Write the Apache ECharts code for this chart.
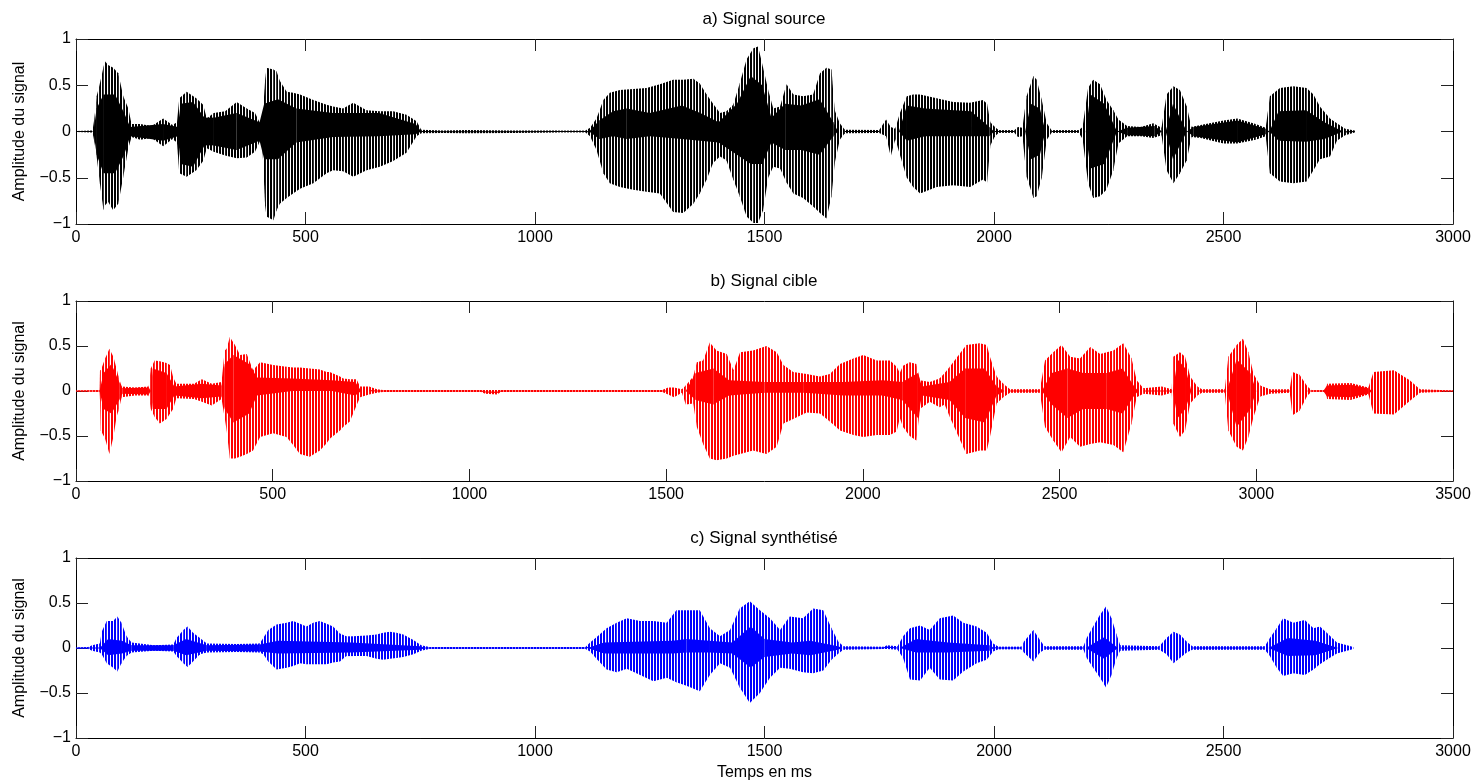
<!DOCTYPE html>
<html><head><meta charset="utf-8">
<script src="https://cdn.jsdelivr.net/npm/echarts@6/dist/echarts.min.js"></script>
<style>html,body{margin:0;padding:0;background:#fff}#c{width:1474px;height:782px}</style>
</head><body><div id="c"></div>
<script>
// ---- Data (time in ms, upper envelope, lower envelope) ----
const titles = ['a) Signal source', 'b) Signal cible', 'c) Signal synthétisé'];
const xMaxValues = [3000, 3500, 3000];
const yTicks = [-1, -0.5, 0, 0.5, 1];

const sourceEnvelope = [[0,0.005,-0.005],[36,0.01,-0.01],[40,0.14,-0.11],[45,0.38,-0.27],[52,0.52,-0.56],[60,0.70,-0.85],[63,0.76,-0.80],[70,0.72,-0.76],[81,0.69,-0.85],[92,0.63,-0.78],[103,0.38,-0.49],[114,0.25,-0.18],[121,0.08,-0.06],[140,0.08,-0.09],[165,0.06,-0.07],[190,0.14,-0.16],[210,0.07,-0.08],[220,0.10,-0.12],[225,0.36,-0.45],[241,0.43,-0.49],[262,0.36,-0.42],[277,0.29,-0.32],[285,0.14,-0.18],[300,0.20,-0.22],[325,0.22,-0.26],[350,0.32,-0.29],[372,0.25,-0.28],[390,0.20,-0.22],[405,0.05,-0.06],[412,0.55,-0.80],[415,0.69,-0.92],[430,0.67,-0.96],[437,0.65,-0.85],[444,0.55,-0.78],[459,0.43,-0.72],[473,0.42,-0.67],[488,0.40,-0.62],[517,0.34,-0.56],[546,0.29,-0.45],[560,0.27,-0.42],[582,0.25,-0.43],[604,0.31,-0.49],[633,0.23,-0.42],[662,0.22,-0.38],[691,0.22,-0.32],[720,0.18,-0.23],[742,0.11,-0.05],[752,0.02,-0.02],[800,0.01,-0.015],[850,0.015,-0.02],[950,0.01,-0.015],[1050,0.01,-0.01],[1110,0.01,-0.01],[1120,0.04,-0.05],[1134,0.14,-0.20],[1149,0.34,-0.45],[1163,0.42,-0.56],[1185,0.45,-0.60],[1214,0.46,-0.63],[1243,0.47,-0.65],[1272,0.51,-0.67],[1301,0.56,-0.87],[1323,0.56,-0.88],[1345,0.57,-0.78],[1359,0.52,-0.67],[1374,0.40,-0.52],[1388,0.30,-0.34],[1403,0.20,-0.27],[1417,0.22,-0.31],[1432,0.29,-0.52],[1446,0.52,-0.70],[1461,0.78,-0.92],[1476,0.90,-0.99],[1486,0.92,-0.99],[1497,0.69,-0.85],[1508,0.45,-0.50],[1519,0.25,-0.38],[1534,0.27,-0.40],[1548,0.51,-0.55],[1563,0.40,-0.67],[1584,0.38,-0.72],[1606,0.40,-0.81],[1621,0.63,-0.88],[1635,0.69,-0.94],[1646,0.67,-0.70],[1653,0.23,-0.34],[1664,0.09,-0.09],[1675,0.02,-0.02],[1750,0.015,-0.015],[1765,0.13,-0.05],[1775,0.05,-0.27],[1785,0.03,-0.08],[1795,0.20,-0.25],[1810,0.38,-0.50],[1824,0.40,-0.60],[1839,0.40,-0.67],[1875,0.36,-0.60],[1911,0.32,-0.58],[1948,0.31,-0.60],[1976,0.34,-0.52],[1985,0.30,-0.55],[1992,0.10,-0.15],[2002,0.05,-0.05],[2010,0.015,-0.015],[2045,0.015,-0.015],[2052,0.05,-0.06],[2062,0.04,-0.05],[2071,0.38,-0.49],[2086,0.60,-0.72],[2093,0.56,-0.70],[2104,0.34,-0.50],[2115,0.09,-0.09],[2125,0.015,-0.015],[2185,0.015,-0.015],[2193,0.05,-0.08],[2205,0.47,-0.56],[2216,0.56,-0.72],[2231,0.51,-0.70],[2245,0.34,-0.63],[2260,0.23,-0.42],[2271,0.13,-0.13],[2290,0.06,-0.05],[2320,0.05,-0.05],[2347,0.09,-0.07],[2365,0.04,-0.04],[2376,0.40,-0.42],[2391,0.49,-0.56],[2405,0.45,-0.45],[2420,0.27,-0.31],[2430,0.05,-0.06],[2450,0.07,-0.07],[2500,0.12,-0.13],[2530,0.14,-0.13],[2570,0.08,-0.09],[2592,0.04,-0.05],[2601,0.38,-0.45],[2623,0.47,-0.54],[2652,0.49,-0.56],[2681,0.47,-0.54],[2696,0.40,-0.42],[2710,0.27,-0.30],[2732,0.14,-0.27],[2747,0.09,-0.10],[2765,0.03,-0.04],[2786,0.01,-0.01]];

const sourceCore = [[38,0,0],[45,0.25,-0.25],[60,0.4,-0.45],[85,0.4,-0.45],[105,0.2,-0.25],[118,0.05,-0.05],[190,0.08,-0.1],[222,0.05,-0.05],[228,0.3,-0.35],[255,0.32,-0.38],[280,0.15,-0.15],[300,0.15,-0.15],[350,0.2,-0.2],[400,0.1,-0.1],[410,0.3,-0.3],[440,0.35,-0.3],[480,0.25,-0.12],[560,0.2,-0.06],[660,0.2,-0.05],[740,0.08,-0.03],[752,0,0],[1118,0,0],[1140,0.12,-0.08],[1170,0.22,-0.05],[1200,0.25,-0.08],[1250,0.2,-0.05],[1320,0.28,-0.08],[1360,0.2,-0.1],[1400,0.1,-0.12],[1440,0.3,-0.25],[1470,0.6,-0.35],[1495,0.5,-0.35],[1515,0.15,-0.12],[1545,0.3,-0.2],[1580,0.28,-0.2],[1620,0.35,-0.25],[1650,0.1,-0.05],[1660,0,0],[1793,0,0],[1810,0.28,-0.1],[1850,0.25,-0.05],[1950,0.22,-0.05],[1990,0.05,-0.05],[2000,0,0],[2068,0,0],[2080,0.3,-0.3],[2100,0.25,-0.25],[2112,0,0],[2200,0,0],[2210,0.4,-0.4],[2240,0.3,-0.35],[2268,0,0],[2290,0.04,-0.04],[2350,0.06,-0.05],[2366,0,0],[2374,0,0],[2390,0.3,-0.3],[2420,0,0],[2435,0.05,-0.05],[2530,0.12,-0.12],[2592,0.03,-0.03],[2600,0,0],[2620,0.22,-0.1],[2680,0.23,-0.11],[2720,0.1,-0.08],[2760,0,0]];

const targetEnvelope = [[0,0.005,-0.005],[60,0.01,-0.01],[61,0.23,-0.10],[63,0.23,-0.44],[74,0.36,-0.53],[85,0.47,-0.70],[95,0.38,-0.51],[103,0.25,-0.29],[108,0.16,-0.22],[116,0.05,-0.07],[150,0.04,-0.05],[185,0.05,-0.05],[190,0.25,-0.20],[200,0.34,-0.29],[213,0.33,-0.36],[230,0.31,-0.31],[239,0.29,-0.25],[247,0.15,-0.20],[255,0.08,-0.08],[300,0.08,-0.09],[320,0.13,-0.12],[345,0.08,-0.16],[370,0.10,-0.09],[378,0.45,-0.30],[383,0.47,-0.44],[391,0.60,-0.75],[404,0.51,-0.75],[417,0.40,-0.73],[434,0.41,-0.70],[450,0.23,-0.66],[468,0.32,-0.51],[501,0.29,-0.47],[535,0.27,-0.51],[552,0.26,-0.60],[569,0.26,-0.70],[594,0.25,-0.73],[620,0.24,-0.66],[637,0.21,-0.58],[645,0.21,-0.53],[671,0.16,-0.44],[679,0.14,-0.40],[696,0.13,-0.34],[713,0.13,-0.16],[722,0.05,-0.07],[745,0.05,-0.04],[765,0.02,-0.02],[780,0.01,-0.01],[1030,0.01,-0.01],[1040,0.01,-0.03],[1070,0.01,-0.04],[1080,0.01,-0.01],[1490,0.01,-0.01],[1505,0.04,-0.04],[1520,0.04,-0.07],[1540,0.02,-0.02],[1550,0.06,-0.15],[1569,0.16,-0.14],[1578,0.32,-0.40],[1594,0.34,-0.59],[1611,0.54,-0.75],[1628,0.45,-0.77],[1654,0.41,-0.75],[1671,0.23,-0.72],[1688,0.43,-0.70],[1721,0.45,-0.66],[1755,0.50,-0.70],[1781,0.43,-0.62],[1798,0.29,-0.36],[1823,0.21,-0.31],[1857,0.19,-0.24],[1891,0.16,-0.25],[1916,0.19,-0.34],[1942,0.30,-0.44],[1976,0.36,-0.49],[2001,0.40,-0.51],[2035,0.34,-0.49],[2069,0.34,-0.49],[2086,0.27,-0.45],[2094,0.20,-0.30],[2102,0.28,-0.40],[2119,0.32,-0.50],[2136,0.30,-0.55],[2145,0.12,-0.20],[2170,0.10,-0.12],[2195,0.14,-0.18],[2208,0.20,-0.15],[2221,0.27,-0.29],[2263,0.51,-0.70],[2297,0.53,-0.66],[2315,0.51,-0.66],[2323,0.38,-0.51],[2340,0.16,-0.14],[2357,0.08,-0.07],[2374,0.02,-0.02],[2450,0.02,-0.02],[2463,0.34,-0.40],[2484,0.43,-0.55],[2505,0.51,-0.68],[2527,0.38,-0.51],[2552,0.36,-0.62],[2578,0.49,-0.59],[2603,0.41,-0.57],[2637,0.45,-0.60],[2662,0.53,-0.68],[2683,0.36,-0.36],[2696,0.12,-0.07],[2713,0.03,-0.03],[2760,0.05,-0.05],[2785,0.02,-0.02],[2789,0.38,-0.36],[2806,0.43,-0.51],[2819,0.38,-0.44],[2832,0.16,-0.14],[2850,0.05,-0.05],[2862,0.02,-0.02],[2920,0.02,-0.02],[2929,0.38,-0.44],[2950,0.51,-0.62],[2966,0.58,-0.66],[2980,0.43,-0.51],[2993,0.19,-0.29],[3010,0.06,-0.06],[3035,0.02,-0.03],[3085,0.02,-0.02],[3092,0.21,-0.27],[3110,0.18,-0.22],[3130,0.05,-0.05],[3140,0.01,-0.01],[3177,0.01,-0.01],[3180,0.08,-0.09],[3240,0.09,-0.10],[3285,0.04,-0.04],[3298,0.21,-0.25],[3350,0.23,-0.26],[3390,0.12,-0.11],[3416,0.02,-0.02],[3500,0.005,-0.005]];

const targetCore = [[60,0,0],[70,0.2,-0.2],[90,0.3,-0.25],[110,0.1,-0.1],[118,0.03,-0.03],[185,0.04,-0.04],[190,0,0],[195,0.25,-0.2],[230,0.2,-0.2],[250,0.05,-0.05],[320,0.08,-0.08],[370,0.06,-0.06],[378,0.3,-0.2],[400,0.4,-0.35],[440,0.3,-0.25],[460,0.15,-0.05],[550,0.14,0.0],[650,0.12,0.0],[710,0.1,-0.05],[725,0,0],[1550,0,0],[1575,0.2,-0.1],[1620,0.25,-0.15],[1660,0.12,-0.05],[1750,0.1,-0.02],[1850,0.1,-0.02],[1950,0.1,-0.05],[2050,0.12,-0.05],[2100,0.1,-0.1],[2140,0.2,-0.3],[2150,0.05,-0.05],[2220,0.1,-0.1],[2260,0.25,-0.3],[2310,0.25,-0.35],[2340,0.05,-0.05],[2360,0,0],[2455,0,0],[2480,0.2,-0.15],[2520,0.25,-0.3],[2560,0.2,-0.2],[2620,0.2,-0.2],[2660,0.25,-0.25],[2690,0.05,-0.05],[2700,0,0],[2788,0,0],[2800,0.35,-0.3],[2820,0.25,-0.2],[2835,0,0],[2925,0,0],[2950,0.35,-0.4],[2985,0.2,-0.2],[3000,0,0],[3170,0,0],[3180,0.06,-0.06],[3240,0.07,-0.07],[3285,0.03,-0.03],[3295,0,0]];

const synthEnvelope = [[0,0.005,-0.005],[27,0.01,-0.01],[35,0.03,-0.03],[52,0.05,-0.05],[56,0.18,-0.07],[67,0.30,-0.17],[81,0.30,-0.22],[90,0.35,-0.26],[99,0.28,-0.17],[110,0.13,-0.09],[121,0.06,-0.05],[170,0.03,-0.03],[212,0.04,-0.04],[219,0.11,-0.09],[234,0.20,-0.17],[243,0.24,-0.21],[255,0.17,-0.15],[270,0.11,-0.07],[285,0.05,-0.05],[350,0.045,-0.045],[400,0.05,-0.05],[408,0.11,-0.07],[419,0.20,-0.15],[437,0.26,-0.24],[459,0.28,-0.22],[473,0.30,-0.20],[488,0.27,-0.17],[502,0.24,-0.18],[517,0.28,-0.18],[531,0.30,-0.18],[546,0.27,-0.18],[560,0.24,-0.16],[575,0.16,-0.15],[589,0.13,-0.09],[604,0.13,-0.09],[633,0.14,-0.09],[655,0.15,-0.12],[669,0.17,-0.13],[684,0.18,-0.12],[698,0.17,-0.11],[713,0.15,-0.10],[735,0.09,-0.07],[752,0.03,-0.03],[770,0.01,-0.01],[1110,0.01,-0.01],[1120,0.06,-0.04],[1134,0.12,-0.12],[1156,0.22,-0.24],[1178,0.28,-0.27],[1200,0.33,-0.23],[1229,0.30,-0.30],[1258,0.30,-0.37],[1287,0.28,-0.33],[1308,0.42,-0.38],[1330,0.42,-0.42],[1359,0.42,-0.48],[1381,0.22,-0.30],[1403,0.13,-0.17],[1425,0.20,-0.22],[1446,0.44,-0.44],[1468,0.52,-0.61],[1490,0.42,-0.50],[1512,0.33,-0.33],[1534,0.20,-0.22],[1555,0.35,-0.23],[1584,0.33,-0.27],[1606,0.44,-0.28],[1628,0.42,-0.25],[1646,0.22,-0.13],[1661,0.07,-0.06],[1672,0.02,-0.02],[1760,0.015,-0.01],[1767,0.03,-0.01],[1790,0.02,-0.02],[1802,0.13,-0.11],[1817,0.22,-0.35],[1839,0.25,-0.36],[1860,0.20,-0.22],[1882,0.33,-0.35],[1911,0.36,-0.36],[1933,0.28,-0.26],[1962,0.24,-0.17],[1984,0.17,-0.13],[1998,0.05,-0.04],[2010,0.015,-0.015],[2060,0.015,-0.015],[2065,0.07,-0.05],[2086,0.20,-0.15],[2100,0.09,-0.05],[2110,0.02,-0.02],[2195,0.02,-0.02],[2202,0.11,-0.11],[2216,0.24,-0.22],[2231,0.37,-0.33],[2244,0.46,-0.44],[2256,0.33,-0.30],[2267,0.15,-0.11],[2275,0.03,-0.03],[2360,0.02,-0.02],[2376,0.11,-0.07],[2391,0.18,-0.17],[2405,0.15,-0.11],[2420,0.07,-0.05],[2432,0.02,-0.02],[2500,0.02,-0.02],[2590,0.02,-0.02],[2601,0.11,-0.09],[2616,0.22,-0.22],[2630,0.33,-0.31],[2652,0.28,-0.28],[2677,0.31,-0.30],[2696,0.22,-0.24],[2710,0.24,-0.18],[2725,0.17,-0.13],[2747,0.06,-0.06],[2783,0.01,-0.01]];

const synthCore = [[52,0,0],[70,0.1,-0.08],[100,0.08,-0.06],[121,0.03,-0.03],[212,0.03,-0.03],[240,0.1,-0.08],[285,0.03,-0.03],[400,0.04,-0.04],[440,0.08,-0.06],[600,0.06,-0.05],[750,0.02,-0.02],[760,0,0],[1115,0,0],[1150,0.06,-0.06],[1300,0.08,-0.06],[1330,0.1,-0.05],[1380,0.08,-0.05],[1430,0.06,-0.06],[1470,0.24,-0.22],[1500,0.1,-0.1],[1560,0.06,-0.06],[1600,0.08,-0.08],[1660,0.02,-0.02],[1670,0,0],[1795,0,0],[1830,0.1,-0.05],[1900,0.06,-0.05],[1990,0.03,-0.03],[2000,0,0],[2200,0,0],[2240,0.12,-0.12],[2270,0,0],[2598,0,0],[2640,0.11,-0.09],[2700,0.08,-0.08],[2750,0,0]];

// ---- Styling ----
const colors = ['#000000', '#ff0000', '#0000ff'];
const envelopes = [sourceEnvelope, targetEnvelope, synthEnvelope];
const cores = [sourceCore, targetCore, synthCore];
const gridBoxes = [{top:39,height:185},{top:301,height:180},{top:558,height:181}];
const FONT = 'Liberation Sans, Arial, Helvetica, sans-serif';

function stripePattern(color){
  const c = document.createElement('canvas');
  c.width = 3; c.height = 4;
  const g = c.getContext('2d');
  g.fillStyle = color; g.fillRect(0,0,2,4);
  return c;
}

function pairs(rows){
  const out = [];
  for (let i = 0; i < rows.length - 1; i++) {
    out.push([rows[i][0], rows[i][1], rows[i][2], rows[i+1][0], rows[i+1][1], rows[i+1][2]]);
  }
  return out;
}

function bandSeries(idx, rows, fill){
  return {
    type: 'custom', xAxisIndex: idx, yAxisIndex: idx, silent: true, animation: false, clip: true,
    data: pairs(rows),
    encode: {x: [0,3], y: [1,2,4,5]},
    renderItem(params, api){
      const p1 = api.coord([api.value(0), api.value(1)]);
      const p2 = api.coord([api.value(3), api.value(4)]);
      const p3 = api.coord([api.value(3), api.value(5)]);
      const p4 = api.coord([api.value(0), api.value(2)]);
      return {type:'polygon', shape:{points:[p1,p2,p3,p4]}, style:{fill: fill, stroke: null}};
    }
  };
}

// thin centre trace: only where the signal is nearly silent
function quietTrace(rows){
  return rows.map(r => (r[1] - r[2]) <= 0.1 ? [r[0], (r[1] + r[2]) / 2] : [r[0], null]);
}

const grid = [], xAxis = [], yAxis = [], series = [], title = [];
for (let i = 0; i < 3; i++) {
  grid.push({left: 76, right: 21, top: gridBoxes[i].top, height: gridBoxes[i].height});
  title.push({text: titles[i], left: 764, top: gridBoxes[i].top - 28, textAlign: 'center', padding: 0,
    textStyle: {fontFamily: FONT, fontSize: 17, fontWeight: 'normal', color: '#000'}});
  const tickStyle = {lineStyle: {color: '#222', width: 1}};
  xAxis.push({
    type: 'value', gridIndex: i, position: 'bottom', min: 0, max: xMaxValues[i], interval: 500,
    axisLine: {show: true, onZero: false, lineStyle: {color: '#000', width: 1}},
    axisTick: Object.assign({inside: true, length: 12}, tickStyle),
    axisLabel: {color: '#000', fontFamily: FONT, fontSize: 16, margin: 6, showMinLabel: true, showMaxLabel: true,
      formatter: v => String(v)},
    splitLine: {show: false},
    name: i === 2 ? 'Temps en ms' : '', nameLocation: 'middle', nameGap: 27,
    nameTextStyle: {color: '#000', fontFamily: FONT, fontSize: 16}
  });
  yAxis.push({
    type: 'value', gridIndex: i, position: 'left', min: yTicks[0], max: yTicks[yTicks.length-1], interval: 0.5,
    axisLine: {show: true, onZero: false, lineStyle: {color: '#000', width: 1}},
    axisTick: Object.assign({inside: true, length: 12}, tickStyle),
    axisLabel: {color: '#000', fontFamily: FONT, fontSize: 16, margin: 5,
      formatter: v => String(v).replace('-', '\u2212')},
    splitLine: {show: false},
    name: 'Amplitude du signal', nameLocation: 'middle', nameGap: 48, nameRotate: 90,
    nameTextStyle: {color: '#000', fontFamily: FONT, fontSize: 16}
  });
}
for (let i = 0; i < 3; i++) {
  xAxis.push({
    type: 'value', gridIndex: i, position: 'top', min: 0, max: xMaxValues[i], interval: 500,
    axisLine: {show: true, onZero: false, lineStyle: {color: '#000', width: 1}},
    axisTick: {inside: true, length: 12, lineStyle: {color: '#222', width: 1}},
    axisLabel: {show: false}, splitLine: {show: false}
  });
  yAxis.push({
    type: 'value', gridIndex: i, position: 'right', min: -1, max: 1, interval: 0.5,
    axisLine: {show: true, onZero: false, lineStyle: {color: '#000', width: 1}},
    axisTick: {inside: true, length: 12, lineStyle: {color: '#222', width: 1}},
    axisLabel: {show: false}, splitLine: {show: false}
  });
}
for (let i = 0; i < 3; i++) {
  series.push({
    type: 'line', xAxisIndex: i, yAxisIndex: i, silent: true, animation: false, showSymbol: false,
    connectNulls: false, data: quietTrace(envelopes[i]),
    lineStyle: {color: colors[i], width: 1.2}
  });
  series.push(bandSeries(i, envelopes[i], {image: stripePattern(colors[i]), repeat: 'repeat'}));
  series.push(bandSeries(i, cores[i], colors[i]));
}

const chart = echarts.init(document.getElementById('c'), null, {renderer: 'canvas'});
chart.setOption({backgroundColor: '#fff', animation: false, title, grid, xAxis, yAxis, series});
</script></body></html>
